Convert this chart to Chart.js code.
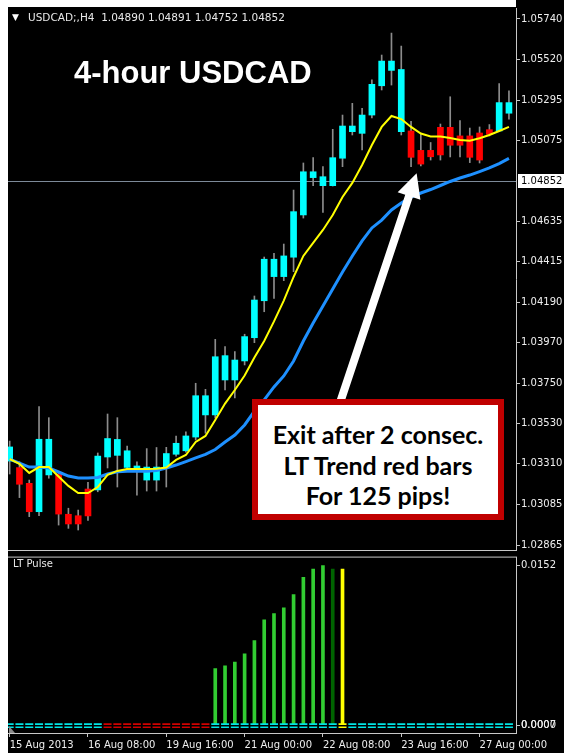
<!DOCTYPE html>
<html>
<head>
<meta charset="utf-8">
<script src="https://cdn.jsdelivr.net/npm/chart.js@4.4.1/dist/chart.umd.min.js"></script>
<style>
html,body{margin:0;padding:0;background:#000;}
#wrap{position:relative;width:564px;height:753px;background:#000;overflow:hidden;}
.strip{position:absolute;background:#fff;}
#mainBox{position:absolute;left:0;top:0;width:564px;height:552px;}
#pulseBox{position:absolute;left:0;top:552px;width:564px;height:201px;}
#tri{position:absolute;left:12px;top:11px;font:9px "DejaVu Sans";line-height:12px;color:#fff;}
#hdr{position:absolute;left:28px;top:11px;font:10.5px "DejaVu Sans";line-height:12px;color:#e8e8e8;white-space:pre;}
#title{position:absolute;left:74px;top:57px;font:bold 31px "Liberation Sans";line-height:31px;color:#fff;white-space:pre;}
#note{position:absolute;left:252px;top:399px;width:252px;height:121px;box-sizing:border-box;border:6px solid #C00000;background:#fff;}
#noteText{position:absolute;left:252px;top:419px;width:252px;text-align:center;font:bold 25px Lato;line-height:30.5px;color:#000;}
#lt{position:absolute;left:13px;top:558px;font:10px "DejaVu Sans";line-height:12px;color:#e8e8e8;}
</style>
</head>
<body>
<div id="wrap">
  <div id="mainBox"><canvas id="mainCanvas" width="564" height="552"></canvas></div>
  <div id="pulseBox"><canvas id="pulseCanvas" width="564" height="201"></canvas></div>
  <div class="strip" style="left:0;top:0;width:516px;height:7px;"></div>
  <div class="strip" style="left:0;top:0;width:8px;height:753px;"></div>
  <div id="tri">▼</div>
  <div id="hdr">USDCAD;,H4  1.04890 1.04891 1.04752 1.04852</div>
  <div id="title">4-hour USDCAD</div>
  <div id="lt">LT Pulse</div>
  <div id="note"></div>
  <div id="noteText">Exit after 2 consec.<br>LT Trend red bars<br>For 125 pips!</div>
</div>
<script>
// ---------- DATA ----------
const barTimes = [
 '2013.08.15 00:00','2013.08.15 04:00','2013.08.15 08:00','2013.08.15 12:00','2013.08.15 16:00','2013.08.15 20:00',
 '2013.08.16 00:00','2013.08.16 04:00','2013.08.16 08:00','2013.08.16 12:00','2013.08.16 16:00','2013.08.16 20:00',
 '2013.08.19 00:00','2013.08.19 04:00','2013.08.19 08:00','2013.08.19 12:00','2013.08.19 16:00','2013.08.19 20:00',
 '2013.08.20 00:00','2013.08.20 04:00','2013.08.20 08:00','2013.08.20 12:00','2013.08.20 16:00','2013.08.20 20:00',
 '2013.08.21 00:00','2013.08.21 04:00','2013.08.21 08:00','2013.08.21 12:00','2013.08.21 16:00','2013.08.21 20:00',
 '2013.08.22 00:00','2013.08.22 04:00','2013.08.22 08:00','2013.08.22 12:00','2013.08.22 16:00','2013.08.22 20:00',
 '2013.08.23 00:00','2013.08.23 04:00','2013.08.23 08:00','2013.08.23 12:00','2013.08.23 16:00','2013.08.23 20:00',
 '2013.08.26 00:00','2013.08.26 04:00','2013.08.26 08:00','2013.08.26 12:00','2013.08.26 16:00','2013.08.26 20:00',
 '2013.08.27 00:00','2013.08.27 04:00','2013.08.27 08:00','2013.08.27 12:00'
];
const trend = [
 'up','dn','dn','up','up','dn','dn','dn','dn','up',
 'up','up','up','up','up','up','up','up','up','up',
 'up','up','up','up','up','up','up','up','up','up',
 'up','up','up','up','up','up','up','up','up','up',
 'up','dn','dn','dn','dn','dn','dn','dn','dn','dn',
 'up','up'
];
const open = [
 1.03324,1.03288,1.03202,1.03047,1.03248,1.03253,1.03033,1.03025,1.03171,1.03166,
 1.03346,1.03355,1.03289,1.03279,1.03220,1.03220,1.03289,1.03361,1.03380,1.03455,
 1.03576,1.03576,1.03767,1.03767,1.03871,1.03998,1.04200,1.04332,1.04332,1.04438,
 1.04669,1.04873,1.04829,1.04829,1.04979,1.05124,1.05115,1.05215,1.05375,1.05459,
 1.05464,1.05128,1.05022,1.05022,1.05148,1.05148,1.05101,1.05101,1.05117,1.05135,
 1.05128,1.05225
];
const close = [
 1.03401,1.03197,1.03047,1.03443,1.03443,1.03034,1.02980,1.02980,1.03024,1.03351,
 1.03447,1.03442,1.03380,1.03297,1.03291,1.03291,1.03365,1.03421,1.03461,1.03681,
 1.03681,1.03894,1.03900,1.03876,1.04004,1.04204,1.04427,1.04427,1.04445,1.04687,
 1.04905,1.04905,1.04878,1.04982,1.05155,1.05155,1.05215,1.05383,1.05510,1.05510,
 1.05124,1.04984,1.04947,1.04987,1.04997,1.05050,1.05050,1.04984,1.04969,1.05110,
 1.05283,1.05283
];
const high = [
 1.03433,1.03320,1.03220,1.03621,1.03561,1.03258,1.03066,1.03056,1.03208,1.03368,
 1.03581,1.03561,1.03406,1.03320,1.03392,1.03398,1.03399,1.03461,1.03483,1.03749,
 1.03716,1.03989,1.03949,1.03922,1.04017,1.04226,1.04439,1.04459,1.04510,1.04805,
 1.04953,1.04982,1.04933,1.05137,1.05215,1.05279,1.05252,1.05407,1.05543,1.05663,
 1.05592,1.05180,1.05111,1.05065,1.05166,1.05315,1.05185,1.05144,1.05150,1.05163,
 1.05387,1.05348
];
const low = [
 1.03253,1.03124,1.03020,1.03025,1.03230,1.02974,1.02956,1.02947,1.03000,1.03156,
 1.03286,1.03182,1.03275,1.03138,1.03160,1.03160,1.03182,1.03351,1.03373,1.03439,
 1.03476,1.03559,1.03712,1.03669,1.03849,1.03971,1.04140,1.04213,1.04310,1.04359,
 1.04652,1.04829,1.04683,1.04827,1.04933,1.05106,1.05024,1.05199,1.05352,1.05379,
 1.05106,1.04933,1.04937,1.04969,1.04969,1.04986,1.04986,1.04955,1.04953,1.05101,
 1.05128,1.05192
];
const fastMA = [
 1.03335,1.03308,1.03259,1.03291,1.03291,1.03239,1.03188,1.03149,1.03149,1.03182,
 1.03248,1.03270,1.03280,1.03280,1.03280,1.03282,1.03289,1.03330,1.03357,1.03428,
 1.03461,1.03548,1.03638,1.03712,1.03791,1.03890,1.03980,1.04087,1.04201,1.04330,
 1.04445,1.04516,1.04587,1.04669,1.04767,1.04844,1.04942,1.05051,1.05150,1.05210,
 1.05193,1.05150,1.05114,1.05098,1.05098,1.05090,1.05079,1.05075,1.05088,1.05106,
 1.05128,1.05150
];
const slowMA = [
 1.03335,1.03313,1.03291,1.03291,1.03286,1.03264,1.03242,1.03231,1.03231,1.03234,
 1.03253,1.03265,1.03268,1.03268,1.03268,1.03272,1.03286,1.03302,1.03321,1.03341,
 1.03360,1.03387,1.03428,1.03466,1.03521,1.03597,1.03658,1.03729,1.03789,1.03871,
 1.03980,1.04078,1.04171,1.04264,1.04357,1.04445,1.04527,1.04598,1.04641,1.04696,
 1.04734,1.04767,1.04789,1.04808,1.04830,1.04852,1.04871,1.04887,1.04906,1.04926,
 1.04950,1.04978
];
const pulse = [
 null,null,null,null,null,null,null,null,null,null,
 null,null,null,null,null,null,null,null,null,null,
 null,0.00538,0.00563,0.00600,0.00678,0.00804,0.01001,0.01060,0.01114,0.01241,
 0.01404,0.01482,0.01517,0.01482,0.01482,null,null,null,null,null,
 null,null,null,null,null,null,null,null,null,null,
 null,null
];
const pulseKind = [
 null,null,null,null,null,null,null,null,null,null,
 null,null,null,null,null,null,null,null,null,null,
 null,'g','g','g','g','g','g','g','g','g',
 'g','g','g','d','y',null,null,null,null,null,
 null,null,null,null,null,null,null,null,null,null,
 null,null
];
const pulseState = [
 'c','c','c','c','c','c','c','c','c','c',
 'r','r','r','r','r','r','r','r','r','r',
 'r','c','c','c','c','c','c','c','c','c',
 'c','c','c','c','y','c','c','c','c','c',
 'c','c','c','c','c','c','c','c','c','c',
 'c','c'
];
const priceTicks = [1.05740,1.05520,1.05295,1.05075,1.04635,1.04415,1.04190,1.03970,1.03750,1.03530,1.03310,1.03085,1.02865];
const BID = 1.04852;
const xTickBars = [0,8,16,24,32,40,48];
const xTickLabels = ['15 Aug 2013','16 Aug 08:00','19 Aug 16:00','21 Aug 00:00','22 Aug 08:00','23 Aug 16:00','27 Aug 00:00'];
const pulseTicks = [0.0152,0,0];
const pulseTickLabels = ['0.0152','0.0000','0.0007'];
const pulseLines = [0.0001,-0.0002];
// arrow annotation (bar index, price)
const ARROW = {tipBar:41.57, tipPrice:1.04897, tailBar:33.6, tailPrice:1.03620};

// ---------- STYLE ----------
const CANDLE = {up:'#00FFFF', dn:'#FF0000'};
const PULSE_BAR = {g:'#32CD32', d:'#006400', y:'#FFFF00'};
const PULSE_DASH = {c:'#00E5E5', r:'#D00000', y:'#FFFF00'};
const AXIS = '#c8c8c8', TXT = '#eeeeee';
const X_MIN = -0.17, X_MAX = 51.72;
const idx = barTimes.map((_, i) => i);

const mainDecor = {
  id: 'mainDecor',
  beforeDatasetsDraw(chart) {
    const {ctx, chartArea: a, scales: {y}} = chart;
    const yb = Math.round(y.getPixelForValue(BID)) + 0.5;
    ctx.save();
    ctx.strokeStyle = '#7d8a99'; ctx.lineWidth = 1;
    ctx.beginPath(); ctx.moveTo(a.left, yb); ctx.lineTo(a.right, yb); ctx.stroke();
    ctx.restore();
  },
  afterDraw(chart) {
    const {ctx, chartArea: a, scales: {x, y}} = chart;
    ctx.save();
    ctx.strokeStyle = AXIS; ctx.lineWidth = 1;
    ctx.beginPath(); ctx.moveTo(a.left, a.bottom + 0.5); ctx.lineTo(a.right + 1, a.bottom + 0.5); ctx.stroke();
    const yb = Math.round(y.getPixelForValue(BID));
    ctx.fillStyle = '#fff'; ctx.fillRect(a.right + 2, yb - 7, 46, 14);
    ctx.fillStyle = '#000'; ctx.font = '10px "DejaVu Sans"';
    ctx.textBaseline = 'middle'; ctx.textAlign = 'left';
    ctx.fillText(BID.toFixed(5), a.right + 5, yb + 0.5);
    const tx = x.getPixelForValue(ARROW.tipBar), ty = y.getPixelForValue(ARROW.tipPrice);
    const sx = x.getPixelForValue(ARROW.tailBar), sy = y.getPixelForValue(ARROW.tailPrice);
    const dx = sx - tx, dy = sy - ty, L = Math.hypot(dx, dy), ux = dx / L, uy = dy / L, px = -uy, py = ux;
    const head = 24, hw = 12, sw = 4;
    const bx = tx + ux * head, by = ty + uy * head;
    ctx.fillStyle = '#fff';
    ctx.beginPath();
    ctx.moveTo(tx, ty);
    ctx.lineTo(bx + px * hw, by + py * hw);
    ctx.lineTo(bx + px * sw, by + py * sw);
    ctx.lineTo(sx + px * sw, sy + py * sw);
    ctx.lineTo(sx - px * sw, sy - py * sw);
    ctx.lineTo(bx - px * sw, by - py * sw);
    ctx.lineTo(bx - px * hw, by - py * hw);
    ctx.closePath(); ctx.fill();
    ctx.restore();
  }
};

const pulseDecor = {
  id: 'pulseDecor',
  afterDraw(chart) {
    const {ctx, chartArea: a} = chart;
    ctx.save();
    ctx.strokeStyle = AXIS; ctx.lineWidth = 1;
    ctx.beginPath(); ctx.moveTo(a.left, a.top - 0.5); ctx.lineTo(a.right + 1, a.top - 0.5); ctx.stroke();
    ctx.fillStyle = '#8a8a8a';
    ctx.beginPath(); ctx.moveTo(a.left + 1, a.bottom - 7); ctx.lineTo(a.left + 1, a.bottom); ctx.lineTo(a.left + 7, a.bottom); ctx.closePath(); ctx.fill();
    ctx.restore();
  }
};

const fixY = s => { s.width = 48; s.paddingTop = 0; s.paddingBottom = 0; };

new Chart(document.getElementById('mainCanvas'), {
  type: 'bar',
  data: {
    datasets: [
      {type: 'line', label: 'Fast MA', data: idx.map(i => ({x: i, y: fastMA[i]})),
       borderColor: '#FFFF00', borderWidth: 2, pointRadius: 0, tension: 0, order: 0},
      {type: 'line', label: 'Slow MA', data: idx.map(i => ({x: i, y: slowMA[i]})),
       borderColor: '#1E90FF', borderWidth: 3, pointRadius: 0, tension: 0, order: 0},
      {type: 'bar', label: 'Body', data: idx.map(i => ({x: i, y: [open[i], close[i]]})),
       backgroundColor: idx.map(i => CANDLE[trend[i]]), borderWidth: 0, barThickness: 6, grouped: false, order: 1},
      {type: 'bar', label: 'Wick', data: idx.map(i => ({x: i, y: [low[i], high[i]]})),
       backgroundColor: '#8c8c8c', borderWidth: 0, barThickness: 1, grouped: false, order: 2}
    ]
  },
  options: {
    animation: false, responsive: false, events: [],
    layout: {padding: {left: 8, top: 8, right: 0, bottom: 2}},
    plugins: {legend: {display: false}, tooltip: {enabled: false}},
    scales: {
      x: {type: 'linear', min: X_MIN, max: X_MAX, offset: false, display: false},
      y: {type: 'linear', position: 'right', min: 1.028377, max: 1.058001,
          afterBuildTicks: s => { s.ticks = priceTicks.map(v => ({value: v})); },
          afterFit: fixY,
          ticks: {callback: v => Number(v).toFixed(5), color: TXT, font: {family: 'DejaVu Sans', size: 10}, padding: 1, autoSkip: false},
          grid: {drawOnChartArea: false, drawTicks: true, tickLength: 4, color: AXIS},
          border: {display: true, color: AXIS, width: 1}}
    }
  },
  plugins: [mainDecor]
});

new Chart(document.getElementById('pulseCanvas'), {
  type: 'bar',
  data: {
    datasets: [
      {type: 'line', label: 'Pulse hi', data: idx.map(i => ({x: i, y: pulseLines[0]})), showLine: false,
       pointStyle: 'line', pointRadius: 4, pointBorderWidth: 1.6,
       pointBorderColor: idx.map(i => PULSE_DASH[pulseState[i]]), order: 0},
      {type: 'line', label: 'Pulse lo', data: idx.map(i => ({x: i, y: pulseLines[1]})), showLine: false,
       pointStyle: 'line', pointRadius: 4, pointBorderWidth: 1.6,
       pointBorderColor: idx.map(i => PULSE_DASH[pulseState[i]]), order: 0},
      {type: 'bar', label: 'LT Pulse', data: idx.filter(i => pulse[i] !== null).map(i => ({x: i, y: pulse[i]})),
       backgroundColor: idx.filter(i => pulse[i] !== null).map(i => PULSE_BAR[pulseKind[i]]),
       borderWidth: 0, barThickness: 3, grouped: false, order: 1}
    ]
  },
  options: {
    animation: false, responsive: false, events: [],
    layout: {padding: {left: 8, top: 2, right: 0, bottom: 0}},
    plugins: {legend: {display: false}, tooltip: {enabled: false}},
    scales: {
      x: {type: 'linear', min: X_MIN, max: X_MAX, offset: false, position: 'bottom',
          afterBuildTicks: s => { s.ticks = xTickBars.map(v => ({value: v})); },
          afterFit: s => { s.height = 20; s.paddingLeft = 0; s.paddingRight = 0; },
          ticks: {callback: (v, i) => xTickLabels[i], align: 'start', color: TXT,
                  font: {family: 'DejaVu Sans', size: 10}, padding: 2, maxRotation: 0, minRotation: 0, autoSkip: false},
          grid: {drawOnChartArea: false, drawTicks: true, tickLength: 4, color: AXIS, offset: false},
          border: {display: true, color: AXIS, width: 1}},
      y: {type: 'linear', position: 'right', min: -0.000745, max: 0.015917,
          afterBuildTicks: s => { s.ticks = pulseTicks.map(v => ({value: v})); },
          afterFit: fixY,
          ticks: {callback: (v, i) => pulseTickLabels[i], color: TXT, font: {family: 'DejaVu Sans', size: 10}, padding: 1, autoSkip: false},
          grid: {drawOnChartArea: false, drawTicks: true, tickLength: 4, color: AXIS},
          border: {display: true, color: AXIS, width: 1}}
    }
  },
  plugins: [pulseDecor]
});
</script>
</body>
</html>
